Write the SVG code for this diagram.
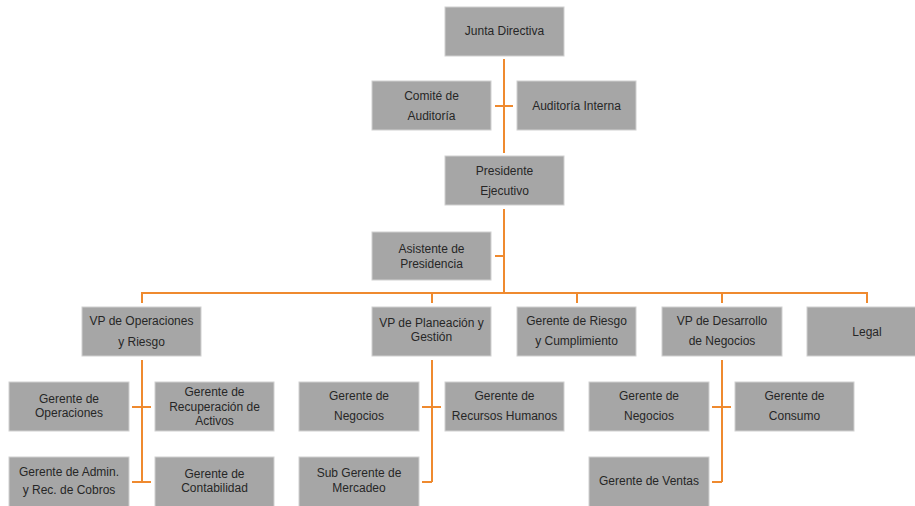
<svg xmlns="http://www.w3.org/2000/svg" width="915" height="506" viewBox="0 0 915 506">
<style>
.box{fill:#a6a6a6;stroke:#d0d0d0;stroke-width:1}
.t{font-family:"Liberation Sans",Arial,sans-serif;font-size:12px;fill:#262626;text-anchor:middle;dominant-baseline:central}
.c{fill:none;stroke:#ef8a2f;stroke-width:2}
</style>
<rect width="915" height="506" fill="#ffffff"/>
<g id="connectors">
<path class="c" d="M504,59V153M495,106H513"/>
<path class="c" d="M504,209V293M495,256H504"/>
<path class="c" d="M142,303V293H867V303M432,293V303M577,293V303M722,293V303"/>
<path class="c" d="M142,360V482M132,407H151M132,482H151"/>
<path class="c" d="M432,360V482M422,407H441M422,482H432"/>
<path class="c" d="M722,360V482M712,407H731M712,482H722"/>
</g>
<g id="junta"><rect class="box" x="445" y="7" width="119" height="49"/><text class="t" x="504.5" y="31">Junta Directiva</text></g>
<g id="comite"><rect class="box" x="372" y="81" width="119" height="49"/><text class="t" x="431.5" y="96">Comité de</text><text class="t" x="431.5" y="116">Auditoría</text></g>
<g id="auditoria"><rect class="box" x="517" y="81" width="119" height="49"/><text class="t" x="576.5" y="106">Auditoría Interna</text></g>
<g id="presidente"><rect class="box" x="445" y="156" width="119" height="49"/><text class="t" x="504.5" y="171">Presidente</text><text class="t" x="504.5" y="191">Ejecutivo</text></g>
<g id="asistente"><rect class="box" x="372" y="232" width="119" height="48"/><text class="t" x="431.5" y="248.5">Asistente de</text><text class="t" x="431.5" y="263.5">Presidencia</text></g>
<g id="vp-ops"><rect class="box" x="82" y="307" width="119" height="49"/><text class="t" x="141.5" y="321">VP de Operaciones</text><text class="t" x="141.5" y="342">y Riesgo</text></g>
<g id="vp-plan"><rect class="box" x="372" y="307" width="119" height="49"/><text class="t" x="431.5" y="323">VP de Planeación y</text><text class="t" x="431.5" y="337">Gestión</text></g>
<g id="riesgo"><rect class="box" x="517" y="307" width="119" height="49"/><text class="t" x="576.5" y="321">Gerente de Riesgo</text><text class="t" x="576.5" y="341">y Cumplimiento</text></g>
<g id="vp-des"><rect class="box" x="662" y="307" width="120" height="49"/><text class="t" x="722" y="321">VP de Desarrollo</text><text class="t" x="722" y="341">de Negocios</text></g>
<g id="legal"><rect class="box" x="807" y="307" width="120" height="49"/><text class="t" x="867" y="332">Legal</text></g>
<g id="g-ops"><rect class="box" x="9" y="382" width="120" height="49"/><text class="t" x="69" y="399">Gerente de</text><text class="t" x="69" y="413">Operaciones</text></g>
<g id="g-recup"><rect class="box" x="155" y="382" width="119" height="49"/><text class="t" x="214.5" y="392">Gerente de</text><text class="t" x="214.5" y="407">Recuperación de</text><text class="t" x="214.5" y="421">Activos</text></g>
<g id="g-admin"><rect class="box" x="9" y="457" width="120" height="50"/><text class="t" x="69" y="472">Gerente de Admin.</text><text class="t" x="69" y="490">y Rec. de Cobros</text></g>
<g id="g-contab"><rect class="box" x="155" y="457" width="119" height="50"/><text class="t" x="214.5" y="474">Gerente de</text><text class="t" x="214.5" y="488">Contabilidad</text></g>
<g id="g-neg1"><rect class="box" x="299" y="382" width="120" height="49"/><text class="t" x="359" y="396">Gerente de</text><text class="t" x="359" y="416">Negocios</text></g>
<g id="g-rrhh"><rect class="box" x="445" y="382" width="119" height="49"/><text class="t" x="504.5" y="396">Gerente de</text><text class="t" x="504.5" y="416">Recursos Humanos</text></g>
<g id="g-merc"><rect class="box" x="299" y="457" width="120" height="50"/><text class="t" x="359" y="473">Sub Gerente de</text><text class="t" x="359" y="488">Mercadeo</text></g>
<g id="g-neg2"><rect class="box" x="589" y="382" width="120" height="49"/><text class="t" x="649" y="396">Gerente de</text><text class="t" x="649" y="416">Negocios</text></g>
<g id="g-consumo"><rect class="box" x="735" y="382" width="119" height="49"/><text class="t" x="794.5" y="396">Gerente de</text><text class="t" x="794.5" y="416">Consumo</text></g>
<g id="g-ventas"><rect class="box" x="589" y="457" width="120" height="50"/><text class="t" x="649" y="481">Gerente de Ventas</text></g>
</svg>
